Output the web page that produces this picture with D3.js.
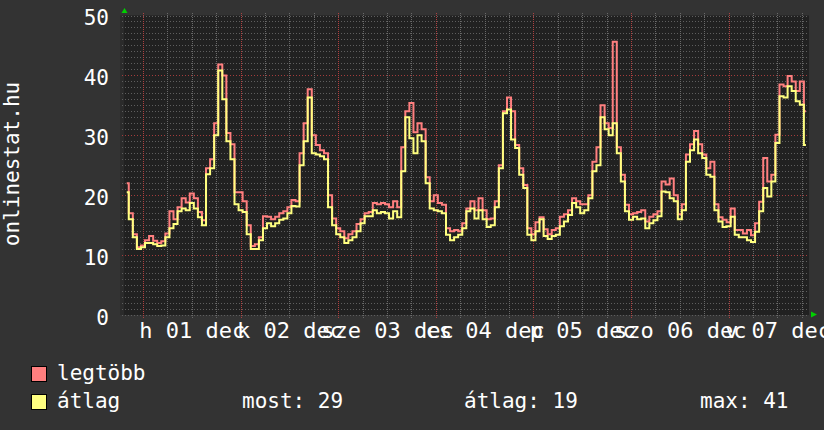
<!DOCTYPE html>
<html><head><meta charset="utf-8">
<script src="https://cdn.jsdelivr.net/npm/d3@7"></script>
<style>body{margin:0;background:#333333;} svg{display:block} text{font-family:"DejaVu Sans Mono",monospace;}</style>
</head><body><svg id="c" width="824" height="430"></svg>
<script>
// ---- data ----
const axisTitle = "onlinestat.hu";
const seriesNames = ["legtöbb", "átlag"];
const dayLabels = ["h 01 dec", "k 02 dec", "sze 03 dec", "cs 04 dec", "p 05 dec", "szo 06 dec", "v 07 dec"];
const yTicks = [0, 10, 20, 30, 40, 50];
const legendStats = [["most:", "29"], ["átlag:", "19"], ["max:", "41"]];
const firstHour = -4; // hours relative to 2008-12-01 00:00, hourly samples
const maxValues = [
 22,17,13.5,11.3,11.6,12.5,13.2,12.4,12,12.3,13.6,17.3,16,18,19.5,18.8,20.3,19.5,17.2,15.8,
 24.5,26,32,41.8,40,30.4,28.5,20.5,20.5,19,15,11.5,11.8,13,16.5,16.4,16,16.4,17,17.3,
 18,19.2,19,27,32,37.7,30,28.4,27.5,27,20,16.1,14.5,14,12.8,13.5,14,15.2,16,17,
 17.2,18.7,18.5,18.7,18.5,18,19,18,28,34,35.4,30.5,32,31,23,19,20,18.7,18.4,14.5,
 14,14.2,14,15.3,17.8,19,17.5,19.5,17.5,16,16.1,19,25,34,36.3,34,28.4,24.5,21.7,14.5,
 13.5,15.5,16.3,14.3,13.5,14.2,14.5,16.4,16.8,17.5,19.5,19,18.5,18.5,20,25.6,28,35,32,31.2,
 45.6,28,23.4,18.4,16.8,17,17.2,17.5,15.6,16.4,16.8,17.3,22.3,21.8,22.8,20,16.8,18.5,26.8,28.5,
 30.7,28.5,26.8,24.5,25.6,18.5,16.3,15.9,15.5,17.8,14.2,14.2,13.6,14.2,13.3,15.3,18.9,26.2,22.3,23.4,
 30.1,38.5,38.2,39.9,39,37.4,39,34
];
const avgValues = [
 20.5,16,13,11,11.3,12,12,11.8,11.5,11.6,13,14.5,15.2,17.3,17.8,17.5,18.7,17.8,16.3,15,
 23.5,24.5,30,40.8,36,29,26,18.5,17.5,17.2,13.5,11,11,12.5,14.5,15.3,14.8,15.3,15.9,16.1,
 17,18.2,18.1,25,29,36.3,27,26.8,26.5,26,18,15,13.5,13,12,12.5,13,14,15.3,16.5,
 16.5,17.5,17,17.2,17,16.1,17.3,16.3,24,33,29.5,27,30,29,22,17.8,17.5,17.3,17,13.4,
 12.5,13,13.4,14.5,17.3,17.8,16.1,17.5,16,14.7,15,18,24.5,33.7,34.3,29.3,27.9,23.4,21.2,13.4,
 12.5,14,16,13.2,12.7,13.2,13.4,14.8,15.6,16.7,18.7,18,17,17.5,19.5,24,25,33,31,30,
 32,27,22.3,17.3,15.9,16.4,16,16.1,14.5,15.3,15.8,16.5,20.6,20.5,19.5,19,16,17.5,25.6,27.5,
 29.3,27,26.2,23.4,23.1,17.5,15.6,14.7,14.8,16.4,13.4,13,13,12.5,12.2,13.9,17.3,21.2,19.8,22.3,
 28.7,36.5,36.3,38.2,37.4,35.7,35.1,28.4
];
const colors = ["#ff7f7f", "#ffff80"];

// ---- chart ----
const svg = d3.select("#c");
const day0 = new Date(2008, 11, 1, 0, 0);
const hourDate = h => new Date(day0.getTime() + h * 3600e3);
const x = d3.scaleTime().domain([hourDate(-4.67), hourDate(163.76)]).range([124, 809]);
const y = d3.scaleLinear().domain([0, 50]).range([315, 15.5]);

svg.append("rect").attr("width", 824).attr("height", 430).attr("fill", "#333333");
svg.append("rect").attr("x", 120).attr("y", 15.5).attr("width", 4).attr("height", 299.5).attr("fill", "#2b2b2b");
svg.append("rect").attr("x", 124).attr("y", y(50)).attr("width", 685).attr("height", y(0) - y(50)).attr("fill", "#212121");

const grid = svg.append("g");
const minorCol = "#5e5e5e", majorCol = "#a33c3c";
// horizontal minor / major
d3.range(0, 51).forEach(v => {
  const major = v % 10 === 0 && v > 0 && v < 50;
  const yy = Math.round(y(v)) + 0.5;
  grid.append("line").attr("x1", 122).attr("x2", 809).attr("y1", yy).attr("y2", yy)
    .attr("stroke", major ? majorCol : minorCol).attr("stroke-width", 1).attr("stroke-dasharray", "1,2");
});
// vertical: every 6 hours, major at midnight
const vt = d3.range(0, 164, 6).map(h => hourDate(h));
const vg = grid.append("g");
vt.forEach((t, i) => {
  const major = i % 4 === 0;
  const xx = Math.round(x(t)) + 0.5;
  vg.append("line").attr("x1", xx).attr("x2", xx).attr("y1", 13).attr("y2", 318)
    .attr("stroke", major ? "#b04040" : "#6a6a6a").attr("stroke-width", 1).attr("stroke-dasharray", "1,1");
});

// series
const mk = vals => vals.map((v, i) => ({ t: hourDate(firstHour + i), v }));
const line = d3.line().x(d => x(d.t)).y(d => y(d.v)).curve(d3.curveStep);
[maxValues, avgValues].forEach((vals, i) => {
  svg.append("path").datum(mk(vals)).attr("d", line).attr("fill", "none")
    .attr("stroke", colors[i]).attr("stroke-width", 2).attr("stroke-linejoin", "miter");
});

// arrows
svg.append("polygon").attr("points", "124.5,8 121.5,13 127.5,13").attr("fill", "#00d000");
svg.append("polygon").attr("points", "817,314.5 811,311.5 811,317.5").attr("fill", "#00d000");

// y axis
const yAxis = d3.axisLeft(y).tickValues(yTicks).tickSize(0).tickPadding(0);
const gy = svg.append("g").attr("transform", "translate(109,0)").call(yAxis);
gy.select(".domain").remove();
gy.selectAll("text").attr("fill", "#ffffff").attr("font-size", 21).attr("font-family", "DejaVu Sans Mono").attr("dy", "0.45em");

// x axis labels at noon
const noons = dayLabels.map((d, i) => hourDate(12 + 24 * i));
const xAxis = d3.axisBottom(x).tickValues(noons).tickFormat((d, i) => dayLabels[i]).tickSize(0).tickPadding(0);
const gx = svg.append("g").attr("transform", "translate(0,338)").call(xAxis);
gx.select(".domain").remove();
gx.selectAll("text").attr("fill", "#ffffff").attr("font-size", 22).attr("font-family", "DejaVu Sans Mono").attr("dy", 0);

// title
svg.append("text").attr("transform", "translate(19,164) rotate(-90)").attr("text-anchor", "middle")
  .attr("fill", "#ffffff").attr("font-size", 21).text(axisTitle);

// legend
const lg = svg.append("g");
[366, 394].forEach((yy, i) => {
  lg.append("rect").attr("x", 31.5).attr("y", yy + 0.5).attr("width", 15).attr("height", 15)
    .attr("fill", colors[i]).attr("stroke", "#000").attr("stroke-width", 1);
  lg.append("text").attr("x", 57).attr("y", yy + 14).attr("fill", "#fff").attr("font-size", 21).text(seriesNames[i]);
});
const statX = [242, 464, 700];
legendStats.forEach((s, i) => {
  lg.append("text").attr("x", statX[i]).attr("y", 408).attr("fill", "#fff").attr("font-size", 21)
    .attr("xml:space", "preserve").text(s[0] + " " + s[1]);
});
</script></body></html>
